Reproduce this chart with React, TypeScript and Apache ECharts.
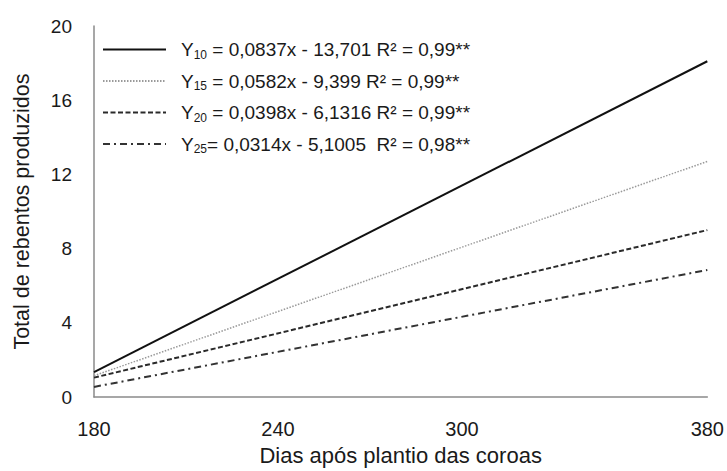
import React, { useEffect, useRef } from "react";
import * as echarts from "echarts";

const seriesNames = ["Y10", "Y15", "Y20", "Y25"];
const subscripts = ["10", "15", "20", "25"];
const equations = [
  " = 0,0837x - 13,701 R² = 0,99**",
  " = 0,0582x - 9,399 R² = 0,99**",
  " = 0,0398x - 6,1316 R² = 0,99**",
  "= 0,0314x - 5,1005  R² = 0,98**",
];
const xDays = [180, 380];
const y10 = [1.35, 18.1];
const y15 = [1.15, 12.7];
const y20 = [1.05, 9.0];
const y25 = [0.55, 6.85];
const xTickLabels = [180, 240, 300, 380];
const yTicks = { min: 0, max: 20, interval: 4 };

const FONT = "'Liberation Sans', Arial, sans-serif";

export default function App() {
  const ref = useRef<HTMLDivElement>(null);
  useEffect(() => {
    if (!ref.current) return;
    const chart = echarts.init(ref.current, null, { renderer: "svg" });
    const mk = (vals: number[]) => xDays.map((x, i) => [x, vals[i]]);
    const styles = [
      { color: "#111", width: 2, type: "solid" as any },
      { color: "#9a9a9a", width: 1.5, type: [1.5, 1.5] as any },
      { color: "#2a2a2a", width: 2, type: [5, 2.5] as any },
      { color: "#333", width: 2, type: [7, 4, 2, 4] as any },
    ];
    const datas = [y10, y15, y20, y25];
    chart.setOption({
      animation: false,
      backgroundColor: "#fff",
      textStyle: { fontFamily: FONT },
      grid: { left: 94, right: 17, top: 26, bottom: 69 },
      legend: {
        orient: "vertical",
        left: 102,
        top: 40,
        padding: 0,
        itemWidth: 63,
        itemHeight: 14,
        itemGap: 11,
        data: seriesNames,
        itemStyle: { color: "transparent", borderColor: "transparent", borderWidth: 0, opacity: 0 },
        formatter: (name: string) => {
          const i = seriesNames.indexOf(name);
          return `{y|Y}{s|${subscripts[i]}}{t|${equations[i]}}`;
        },
        textStyle: {
          fontFamily: FONT,
          color: "#1a1a1a",
          rich: {
            y: { fontSize: 19, lineHeight: 22, padding: [0, 0, 0, 10], fontFamily: FONT, color: "#1a1a1a" },
            s: { fontSize: 12, lineHeight: 10, verticalAlign: "bottom", fontFamily: FONT, color: "#1a1a1a" },
            t: { fontSize: 19, lineHeight: 22, fontFamily: FONT, color: "#1a1a1a" },
          },
        },
      },
      xAxis: {
        type: "value",
        min: 180,
        max: 380,
        interval: 20,
        name: "Dias após plantio das coroas",
        nameLocation: "middle",
        nameGap: 43,
        nameTextStyle: { fontSize: 22, color: "#1a1a1a", fontFamily: FONT },
        axisLine: { lineStyle: { color: "#8a8a8a", width: 1.5 } },
        axisTick: { show: false },
        splitLine: { show: false },
        axisLabel: {
          customValues: xTickLabels,
          margin: 22,
          fontSize: 20,
          color: "#1a1a1a",
          fontFamily: FONT,
        },
      },
      yAxis: {
        type: "value",
        min: yTicks.min,
        max: yTicks.max,
        interval: yTicks.interval,
        name: "Total de rebentos produzidos",
        nameLocation: "middle",
        nameGap: 61,
        nameTextStyle: { fontSize: 21.5, color: "#1a1a1a", fontFamily: FONT },
        axisLine: { show: true, lineStyle: { color: "#8a8a8a", width: 1.5 } },
        axisTick: { show: false },
        splitLine: { show: false },
        axisLabel: { margin: 22, fontSize: 19, color: "#1a1a1a", fontFamily: FONT },
      },
      series: seriesNames.map((n, i) => ({
        name: n,
        type: "line",
        data: mk(datas[i]),
        symbol: "none",
        showSymbol: false,
        lineStyle: styles[i],
        itemStyle: { color: styles[i].color },
      })),
    });
    return () => chart.dispose();
  }, []);
  return <div ref={ref} style={{ width: 727, height: 471, position: "absolute", left: 0, top: 0 }} />;
}
